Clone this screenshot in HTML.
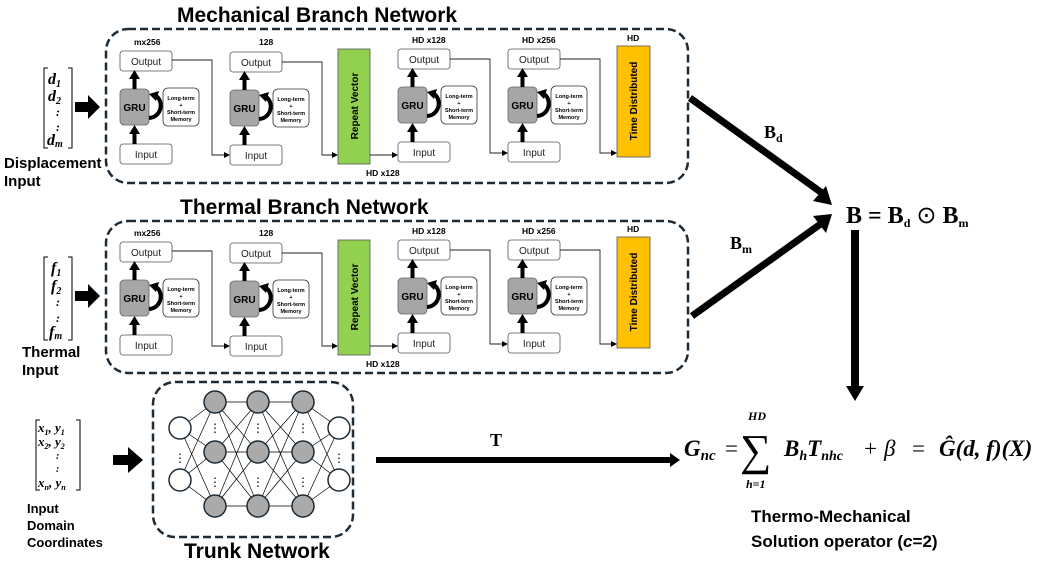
<!DOCTYPE html>
<html><head><meta charset="utf-8"><style>
html,body{margin:0;padding:0;background:#fff;}
svg{display:block;}
.s{font-family:"Liberation Sans",sans-serif;}
.m{font-family:"Liberation Serif",serif;}
</style></head><body>
<svg width="1056" height="569" viewBox="0 0 1056 569" xmlns="http://www.w3.org/2000/svg">
<defs>
<marker id="ah" markerWidth="6" markerHeight="6" refX="5" refY="3" orient="auto" markerUnits="userSpaceOnUse"><path d="M0,0 L6,3 L0,6 z" fill="#000"/></marker>
<g id="unit">
  <rect x="0" y="0" width="52" height="20" rx="3" fill="#fff" stroke="#555" stroke-width="0.8"/>
  <text x="26" y="14" font-size="10" text-anchor="middle" class="s" fill="#222">Output</text>
  <rect x="0" y="38" width="29" height="36" rx="4" fill="#a6a6a6" stroke="#666" stroke-width="0.8"/>
  <text x="14.5" y="60" font-size="10" font-weight="bold" text-anchor="middle" class="s">GRU</text>
  <rect x="43" y="37" width="36" height="38" rx="5" fill="#fff" stroke="#333" stroke-width="0.8"/>
  <text x="61" y="49" font-size="5.5" font-weight="bold" text-anchor="middle" class="s">Long-term</text>
  <text x="61" y="56" font-size="5.5" font-weight="bold" text-anchor="middle" class="s">+</text>
  <text x="61" y="63" font-size="5.5" font-weight="bold" text-anchor="middle" class="s">Short-term</text>
  <text x="61" y="70" font-size="5.5" font-weight="bold" text-anchor="middle" class="s">Memory</text>
  <rect x="0" y="93" width="52" height="20" rx="3" fill="#fff" stroke="#555" stroke-width="0.8"/>
  <text x="26" y="107" font-size="10" text-anchor="middle" class="s" fill="#222">Input</text>
  <path d="M14.5,93 V82" stroke="#000" stroke-width="4"/><path d="M9,83 L14.5,74 L20,83 z" fill="#000"/>
  <path d="M14.5,38 V27" stroke="#000" stroke-width="4"/><path d="M9,28 L14.5,19 L20,28 z" fill="#000"/>
  <path d="M29,67 C42,66 44,50 36,45" stroke="#000" stroke-width="4" fill="none"/>
  <path d="M29,43 L39,40 L36,50 z" fill="#000"/>
</g>
<g id="branch">
  <use href="#unit" x="120" y="0"/>
  <use href="#unit" x="230" y="1"/>
  <use href="#unit" x="398" y="-2"/>
  <use href="#unit" x="508" y="-2"/>
  <rect x="338" y="-2" width="32" height="115" fill="#92d050" stroke="#555" stroke-width="0.8"/>
  <text transform="translate(358,55) rotate(-90)" font-size="10" font-weight="bold" text-anchor="middle" class="s">Repeat Vector</text>
  <rect x="617" y="-5" width="33" height="111" fill="#ffc000" stroke="#555" stroke-width="0.8"/>
  <text transform="translate(637,50) rotate(-90)" font-size="10" font-weight="bold" text-anchor="middle" class="s">Time Distributed</text>
  <g fill="none" stroke="#222" stroke-width="0.9">
    <path d="M172,9 H212 V104 H229" marker-end="url(#ah)"/>
    <path d="M282,11 H322 V104 H337" marker-end="url(#ah)"/>
    <path d="M370,104 H397" marker-end="url(#ah)"/>
    <path d="M450,8 H490 V102 H507" marker-end="url(#ah)"/>
    <path d="M560,8 H600 V102 H616" marker-end="url(#ah)"/>
  </g>
  <g font-size="8.5" font-weight="bold" class="s">
    <text x="134" y="-6">mx256</text>
    <text x="259" y="-6">128</text>
    <text x="412" y="-8">HD x128</text>
    <text x="522" y="-8">HD x256</text>
    <text x="627" y="-10">HD</text>
    <text x="366" y="125">HD x128</text>
  </g>
</g>
</defs>

<!-- Mechanical -->
<text x="177" y="22" font-size="21" font-weight="bold" class="s">Mechanical Branch Network</text>
<rect x="106" y="29" width="582" height="154" rx="22" fill="none" stroke="#1c2b36" stroke-width="2.5" stroke-dasharray="8,4"/>
<use href="#branch" y="51"/>

<!-- Thermal -->
<text x="180" y="214" font-size="21" font-weight="bold" class="s">Thermal Branch Network</text>
<rect x="106" y="221" width="582" height="152" rx="22" fill="none" stroke="#1c2b36" stroke-width="2.5" stroke-dasharray="8,4"/>
<use href="#branch" y="242"/>

<!-- Left inputs -->
<g class="m" font-style="italic" font-weight="bold" font-size="16">
  <path d="M48,68 H44 V148 H48 M68,68 H72 V148 H68" fill="none" stroke="#000" stroke-width="1"/>
  <text x="48" y="84">d<tspan font-size="10" dy="3">1</tspan></text>
  <text x="48" y="101">d<tspan font-size="10" dy="3">2</tspan></text>
  <text x="56" y="116" font-size="12">:</text>
  <text x="56" y="131" font-size="12">:</text>
  <text x="47" y="145">d<tspan font-size="10" dy="2">m</tspan></text>

  <path d="M48,257 H44 V340 H48 M68,257 H72 V340 H68" fill="none" stroke="#000" stroke-width="1"/>
  <text x="51" y="273">f<tspan font-size="10" dy="3">1</tspan></text>
  <text x="51" y="291">f<tspan font-size="10" dy="3">2</tspan></text>
  <text x="56" y="306" font-size="12">:</text>
  <text x="56" y="322" font-size="12">:</text>
  <text x="49" y="337">f<tspan font-size="10" dy="2">m</tspan></text>

  <path d="M40,420 H36 V490 H40 M76,420 H80 V490 H76" fill="none" stroke="#000" stroke-width="1"/>
  <text x="38" y="432" font-size="13">x<tspan font-size="8" dy="3">1</tspan><tspan dy="-3">, y</tspan><tspan font-size="8" dy="3">1</tspan></text>
  <text x="38" y="446" font-size="13">x<tspan font-size="8" dy="3">2</tspan><tspan dy="-3">, y</tspan><tspan font-size="8" dy="3">2</tspan></text>
  <text x="56" y="459" font-size="10">:</text>
  <text x="56" y="472" font-size="10">:</text>
  <text x="38" y="487" font-size="13">x<tspan font-size="8" dy="3">n</tspan><tspan dy="-3">, y</tspan><tspan font-size="8" dy="3">n</tspan></text>
</g>
<path d="M75,102 H88 V95 L100,107 L88,119 V112 H75 z" fill="#000"/>
<path d="M75,291 H88 V284 L100,296 L88,308 V301 H75 z" fill="#000"/>
<path d="M113,455 H128 V447 L143,460 L128,473 V465 H113 z" fill="#000"/>
<g class="s" font-weight="bold" font-size="15">
  <text x="4" y="168">Displacement</text><text x="4" y="186">Input</text>
  <text x="22" y="357">Thermal</text><text x="22" y="375">Input</text>
</g>
<g class="s" font-weight="bold" font-size="13">
  <text x="27" y="513">Input</text><text x="27" y="530">Domain</text><text x="27" y="547">Coordinates</text>
</g>

<!-- Trunk -->
<rect x="153" y="382" width="200" height="155" rx="22" fill="none" stroke="#1c2b36" stroke-width="2.5" stroke-dasharray="8,4"/>
<text x="184" y="558" font-size="21" font-weight="bold" class="s">Trunk Network</text>
<g stroke="#000" stroke-width="0.7">
  <path d="M180,428 L215,402 M180,428 L215,452 M180,428 L215,506 M180,480 L215,402 M180,480 L215,452 M180,480 L215,506"/>
  <path d="M215,402 L258,402 M215,402 L258,452 M215,402 L258,506 M215,452 L258,402 M215,452 L258,452 M215,452 L258,506 M215,506 L258,402 M215,506 L258,452 M215,506 L258,506"/>
  <path d="M258,402 L303,402 M258,402 L303,452 M258,402 L303,506 M258,452 L303,402 M258,452 L303,452 M258,452 L303,506 M258,506 L303,402 M258,506 L303,452 M258,506 L303,506"/>
  <path d="M303,402 L339,428 M303,452 L339,428 M303,506 L339,428 M303,402 L339,480 M303,452 L339,480 M303,506 L339,480"/>
</g>
<g stroke="#1c2b36" stroke-width="1.5">
  <circle cx="180" cy="428" r="11" fill="#fff"/><circle cx="180" cy="480" r="11" fill="#fff"/>
  <circle cx="339" cy="428" r="11" fill="#fff"/><circle cx="339" cy="480" r="11" fill="#fff"/>
  <circle cx="215" cy="402" r="11" fill="#aaa"/><circle cx="215" cy="452" r="11" fill="#aaa"/><circle cx="215" cy="506" r="11" fill="#aaa"/>
  <circle cx="258" cy="402" r="11" fill="#aaa"/><circle cx="258" cy="452" r="11" fill="#aaa"/><circle cx="258" cy="506" r="11" fill="#aaa"/>
  <circle cx="303" cy="402" r="11" fill="#aaa"/><circle cx="303" cy="452" r="11" fill="#aaa"/><circle cx="303" cy="506" r="11" fill="#aaa"/>
</g>
<g fill="#000">
  <text x="180" y="462" font-size="12" text-anchor="middle" class="s">⋮</text>
  <text x="339" y="462" font-size="12" text-anchor="middle" class="s">⋮</text>
  <text x="215" y="432" font-size="12" text-anchor="middle" class="s">⋮</text><text x="215" y="486" font-size="12" text-anchor="middle" class="s">⋮</text>
  <text x="258" y="432" font-size="12" text-anchor="middle" class="s">⋮</text><text x="258" y="486" font-size="12" text-anchor="middle" class="s">⋮</text>
  <text x="303" y="432" font-size="12" text-anchor="middle" class="s">⋮</text><text x="303" y="486" font-size="12" text-anchor="middle" class="s">⋮</text>
</g>

<!-- Right side arrows -->
<path d="M690,98 L822,193" stroke="#000" stroke-width="7"/>
<path d="M813,201 L832,205 L826,186 z" fill="#000"/>
<path d="M692,316 L822,223" stroke="#000" stroke-width="7"/>
<path d="M826,233 L832,214 L813,216 z" fill="#000"/>
<text x="764" y="138" font-size="18" font-weight="bold" class="m">B<tspan font-size="12" dy="4">d</tspan></text>
<text x="730" y="249" font-size="18" font-weight="bold" class="m">B<tspan font-size="12" dy="4">m</tspan></text>
<text x="846" y="223" font-size="24" font-weight="bold" class="m">B = B<tspan font-size="12" dy="4">d</tspan><tspan dy="-4" font-weight="normal"> ⊙ </tspan>B<tspan font-size="12" dy="4">m</tspan></text>
<path d="M855,230 V388" stroke="#000" stroke-width="8"/>
<path d="M846,386 L864,386 L855,401 z" fill="#000"/>
<path d="M376,460 H672" stroke="#000" stroke-width="6"/>
<path d="M670,453 L680,460 L670,467 z" fill="#000"/>
<text x="490" y="446" font-size="18" font-weight="bold" class="m">T</text>

<!-- Gnc formula -->
<g class="m" font-weight="bold" font-style="italic">
  <text x="684" y="456" font-size="23">G<tspan font-size="15" dy="4">nc</tspan></text>
  <text x="725" y="456" font-size="23" font-style="normal" font-weight="normal">=</text>
  <text x="748" y="420" font-size="12">HD</text>
  <text x="740" y="465" font-size="44" font-style="normal" font-weight="normal">∑</text>
  <text x="746" y="488" font-size="12">h=1</text>
  <text x="784" y="456" font-size="23">B<tspan font-size="14" dy="4">h</tspan><tspan dy="-4">T</tspan><tspan font-size="14" dy="4">nhc</tspan></text>
  <text x="864" y="456" font-size="23" font-style="normal" font-weight="normal">+</text>
  <text x="884" y="456" font-size="23" font-weight="normal">β</text>
  <text x="912" y="456" font-size="23" font-style="normal" font-weight="normal">=</text>
  <text x="939" y="456" font-size="23">Ĝ(d, f)(X)</text>
</g>
<g class="s" font-weight="bold" font-size="17">
  <text x="751" y="522">Thermo-Mechanical</text>
  <text x="751" y="547">Solution operator (<tspan font-style="italic">c</tspan>=2)</text>
</g>
</svg>
</body></html>
